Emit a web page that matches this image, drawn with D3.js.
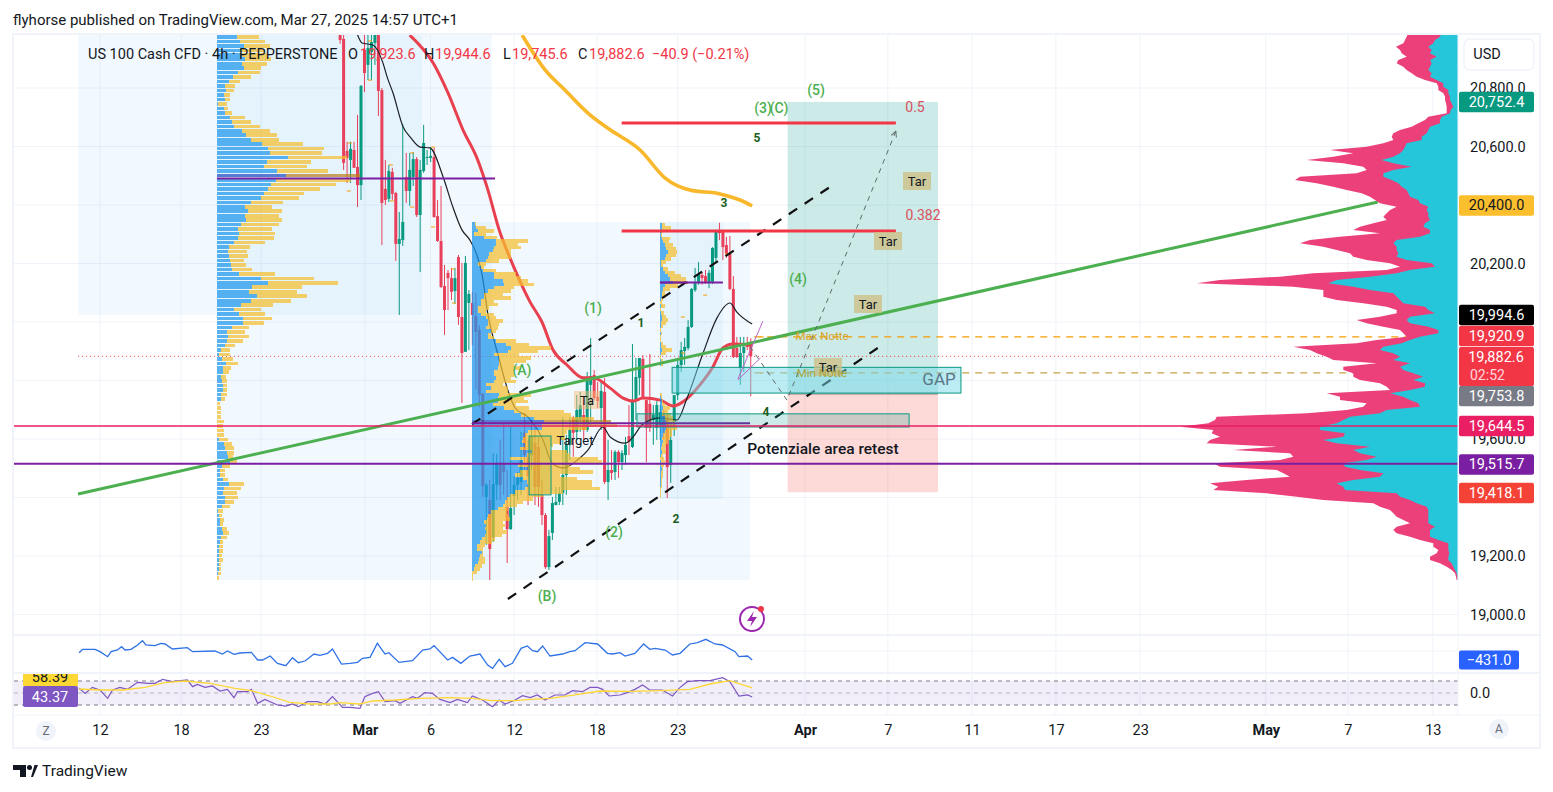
<!DOCTYPE html>
<html>
<head>
<meta charset="utf-8">
<script src="https://cdn.jsdelivr.net/npm/d3@7"></script>
<style>
  html, body { margin: 0; background: #fff; }
  svg { display: block; font-family: Roboto, sans-serif; }
  .axis path, .axis line { display: none; }
  .axis text { font-family: Roboto, sans-serif; font-size: 14.5px; fill: #131722; }
</style>
</head>
<body>
<script>
// ---- price axis and time axis
const priceTicks = [20800, 20600, 20400, 20200, 20000, 19800, 19600, 19400, 19200, 19000];
const priceLabels = [20800, 20600, 20200, 19600, 19200, 19000];
const timeBars = [0, 23.3, 46.3, 76.1, 95, 119, 142.8, 166, 202.6, 226.4, 250.6, 274.7, 298.9, 335, 358.6, 383];
const timeLabels = ['12', '18', '23', 'Mar', '6', '12', '18', '23', 'Apr', '7', '11', '17', '23', 'May', '7', '13'];

// ---- 4h candles, first one is bar 69
const firstBar = 69;
const candleOpen = [21033,20968,20585,20554,20588,20530,20468,20930,20879,20923,20954,20985,20793,20455,20421,20513,20441,20267,20280,20496,20448,20496,20557,20366,20516,20561,20561,20564,20362,20277,20123,20168,20150,20106,20222,20017,19898,20065,20065,20021,19973,19754,19402,19391,19262,19443,19518,19518,19368,19292,19405,19443,19453,19621,19539,19545,19586,19573,19409,19340,19162,19279,19374,19385,19415,19477,19580,19672,19624,19665,19682,19631,19785,19819,19744,19706,19761,19453,19494,19487,19556,19521,19545,19610,19573,19733,19809,19874,19733,19720,19665,19638,19648,19682,19672,19511,19658,19750,19853,19901,19911,19983,20109,20133,20161,20157,20133,20137,20219,20308,20308,20263,20233,20113,19911,19843,19894,19921,19923.6];
const candleHigh = [21067,20998,20616,20616,20616,20708,20810,20985,20998,20985,21033,21033,20800,20554,20537,20527,20445,20376,20677,20578,20578,20581,20564,20554,20674,20588,20598,20595,20417,20465,20195,20178,20185,20185,20229,20202,20226,20109,20103,20099,19990,19757,19450,19460,19552,19549,19597,19655,19494,19641,19474,19487,19624,19689,19597,19665,19648,19607,19460,19347,19289,19402,19436,19436,19675,19614,19675,19679,19750,19761,19733,19829,19945,19836,19795,19795,19809,19597,19562,19562,19562,19562,19607,19716,19925,19877,19877,19887,19733,19891,19716,19740,19716,19699,19682,19658,19750,19870,19932,19945,20007,20116,20185,20205,20171,20178,20178,20256,20315,20339,20308,20291,20294,20157,19949,19949,19949,19949,19944.6];
const candleLow = [20951,20520,20475,20475,20527,20393,20417,20786,20827,20827,20879,20704,20263,20400,20410,20417,20209,20024,20260,20407,20397,20465,20359,20171,20510,20537,20547,20356,20274,20116,19956,20041,20075,20062,19990,19723,19898,19904,19921,19768,19709,19402,19238,19118,19248,19391,19391,19409,19176,19289,19340,19391,19409,19494,19374,19494,19374,19368,19306,19156,19152,19255,19374,19374,19374,19409,19528,19539,19597,19624,19597,19624,19648,19733,19706,19631,19446,19391,19460,19460,19467,19494,19511,19545,19569,19665,19750,19744,19521,19624,19580,19597,19597,19597,19398,19450,19610,19733,19829,19853,19904,19980,20103,20127,20127,20130,20116,20130,20205,20280,20212,20219,20109,19877,19877,19785,19829,19904,19745.6];
const candleClose = [20964,20544,20561,20592,20527,20468,20807,20851,20937,20957,21005,20790,20407,20417,20516,20438,20267,20284,20342,20448,20520,20557,20366,20520,20612,20564,20568,20359,20277,20120,20041,20150,20103,20150,20017,19894,20202,20096,20024,19966,19750,19439,19443,19224,19446,19518,19443,19487,19292,19364,19443,19467,19528,19545,19474,19610,19436,19436,19340,19162,19268,19381,19385,19415,19477,19580,19631,19621,19699,19716,19631,19809,19815,19740,19730,19764,19453,19494,19484,19556,19521,19552,19580,19590,19733,19812,19877,19744,19638,19638,19682,19716,19692,19648,19504,19597,19750,19853,19904,19915,19983,20113,20133,20164,20150,20133,20168,20253,20308,20304,20256,20233,20113,19880,19880,19894,19915,19915,19882.6];

// ---- moving averages: [bar, price]
const maRed = [[89,20981],[95.7,20886],[100,20783],[104.3,20657],[108.3,20561],[111.2,20462],[115,20304],[117.8,20219],[123.6,20068],[127,20000],[130.2,19904],[134.2,19853],[138.8,19809],[141.7,19809],[146.6,19774],[150.3,19740],[153.2,19730],[156,19740],[161,19733],[164.7,19713],[167.5,19727],[172.4,19785],[176.1,19846],[179,19911],[181.9,19925],[187.6,19921]];
const maBlack = [[73.9,20985],[75.3,20954],[78.4,20947],[81.3,20886],[82.5,20838],[84.2,20783],[87.1,20667],[89.1,20633],[92,20598],[94.8,20595],[98.6,20496],[101.4,20393],[104,20315],[106.3,20280],[108.3,20229],[109.8,20161],[111.5,20024],[114.4,19887],[117,19774],[119.3,19706],[123,19675],[127.3,19597],[129.9,19518],[133,19501],[137.9,19535],[140.2,19562],[144.5,19641],[146.6,19607],[150.9,19586],[153.2,19607],[155.7,19648],[160.9,19672],[165.8,19665],[168.7,19740],[173.3,19894],[177.3,20014],[181,20065],[183,20034],[187.4,19993]];
const maYellow = [[121.3,20981],[127.9,20862],[133.6,20793],[140.8,20708],[146.6,20657],[155.2,20588],[162.4,20492],[169.5,20451],[178.2,20438],[183.9,20417],[187.4,20397]];

// ---- lower panes: [bar, value]
const cciLine = [[-6,-80],[-5,80],[-1.4,80],[0,-32],[2.2,-272],[3.2,-32],[5,48],[6.2,208],[7.2,48],[8.9,80],[10.8,288],[12.2,496],[13.2,288],[15.8,256],[17.5,368],[18.7,336],[20.8,96],[25.1,160],[26.6,-32],[33,0],[35.2,-144],[36.6,0],[38.5,-160],[40.2,-96],[43.5,-64],[45.3,-432],[46.7,-432],[48.9,-240],[51,-592],[53.4,-704],[55.3,-320],[57,-560],[58.9,-480],[61.5,-144],[63.2,-208],[65.4,-112],[66.8,96],[69.4,-624],[71.8,-592],[74,-544],[75.4,-352],[77.6,-304],[79.7,368],[81.9,-144],[83,-80],[85.9,-544],[89.8,-464],[92.7,48],[94.8,96],[96,256],[99.9,-432],[101.3,-304],[103.7,-592],[106.3,-240],[109.2,-144],[111.4,-672],[112.8,-832],[114.7,-400],[116.4,-752],[118.5,-592],[121,128],[122.8,240],[124.3,16],[125.7,-32],[127.2,240],[129.3,-240],[132.9,-144],[135,-32],[136.5,16],[139.4,400],[143,336],[145.8,-112],[147.3,-144],[149.4,-80],[150.9,-240],[153.7,-112],[156.2,336],[158,80],[159.5,128],[162.4,48],[164.5,-192],[166.7,-112],[169.5,336],[171.7,400],[174.1,560],[176.7,336],[178.9,288],[182.5,-32],[183.6,-272],[186.1,-240],[187.4,-431]];
const rsiLine = [[-6,57.8],[-4.3,49.4],[-2.2,59.4],[0,55],[2.2,41.1],[3.6,55],[5.7,59.4],[7.9,56.1],[10.8,67.8],[13.6,66.1],[15.8,66.1],[18,72.8],[20.8,68.9],[25.1,71.7],[26.6,60.6],[28,64.4],[30.2,59.4],[32.3,61.7],[34.5,53.3],[36.6,56.1],[38.5,42.2],[39.5,52.2],[42.4,52.2],[43.5,56.1],[45.3,32.8],[47.4,39.4],[51,30],[53.4,28.3],[55.3,31.7],[57,27.2],[59.6,35.6],[62.5,35.6],[64.7,31.7],[66.8,43.9],[69.7,26.1],[71.8,26.1],[74.7,24.4],[76.1,43.9],[78.3,49.4],[80,52.2],[81.9,35.6],[84.8,37.2],[86.2,32.8],[89.8,43.9],[91.2,41.1],[93.4,50.6],[95.5,49.4],[97.7,39.4],[100.6,33.9],[102.7,39.4],[105.6,33.9],[107,45],[109.9,38.3],[112.8,27.2],[114.7,38.3],[116.4,31.7],[119.3,38.3],[121.4,45.6],[123.6,42.2],[125.7,46.7],[127.9,38.3],[130.7,46.7],[133.6,46.7],[135.8,53.9],[138.6,52.2],[140.8,59.4],[143,59.4],[144.4,56.1],[146.3,45],[149.4,46.7],[151.6,50.6],[153.7,56.1],[155.9,63.3],[158,55],[161.6,55],[164.5,45],[166.7,59.4],[168.8,68.9],[171.7,70.6],[175.3,70.6],[178.9,75.6],[181,68.9],[183.6,45],[186.1,46.7],[187.4,43.37]];
const rsiMa = [[-6,56.7],[0,55],[6.5,55],[12.9,59.4],[18.7,67.2],[24.4,70],[31.6,66.1],[38.8,57.8],[43.5,53.9],[48.9,45],[54.6,34.4],[60.3,31.7],[66.1,31.7],[69,33.9],[74.7,31.7],[78.3,36.7],[84.8,38.3],[92,41.1],[100.6,42.2],[107,41.1],[112.8,37.2],[119.3,37.2],[123.6,39.4],[129.3,41.1],[136.5,46.7],[143.7,53.3],[152.3,52.8],[160.9,53.9],[169.5,56.1],[175.3,65],[181,70.6],[187.4,58.39]];

// ---- volume profiles, [up, total] per row from top price down to bottom price
const profileLeft = [[56,126],[59,127],[69,144],[81,159],[71,144],[74,154],[84,162],[75,149],[81,132],[63,129],[49,102],[36,69],[24,54],[27,51],[21,39],[24,39],[4,31],[21,34],[24,45],[39,84],[45,102],[51,129],[76,159],[87,180],[102,186],[135,258],[153,321],[159,315],[213,389],[150,282],[141,270],[180,333],[207,429],[177,402],[162,357],[153,309],[141,261],[132,246],[102,198],[84,165],[93,195],[84,186],[87,195],[72,186],[63,165],[66,174],[63,171],[51,144],[36,99],[33,90],[36,93],[39,81],[42,87],[45,105],[66,174],[132,291],[153,363],[105,255],[96,240],[120,270],[102,222],[72,168],[51,132],[66,144],[78,165],[78,141],[45,96],[30,84],[33,96],[30,78],[24,54],[12,39],[6,39],[15,48],[27,63],[18,42],[18,36],[12,27],[15,30],[18,30],[18,30],[12,30],[12,24],[0,9],[0,12],[0,12],[0,12],[0,21],[0,18],[0,21],[0,21],[6,33],[21,45],[24,51],[30,51],[33,48],[39,60],[15,39],[9,24],[9,24],[18,33],[36,81],[21,72],[18,60],[24,63],[24,51],[15,39],[3,18],[6,15],[9,21],[9,18],[15,30],[18,36],[12,30],[9,18],[6,18],[6,18],[6,15],[6,18],[6,12],[6,12],[3,12],[0,6]];
const profileMid = [[10,12],[12,42],[17,67],[7,42],[37,74],[72,167],[72,137],[67,147],[62,117],[52,117],[47,117],[42,82],[17,42],[27,37],[32,72],[67,132],[67,147],[92,167],[97,187],[67,127],[47,117],[37,92],[37,117],[27,67],[27,77],[17,52],[17,42],[27,67],[42,72],[47,92],[47,82],[42,77],[57,72],[47,57],[47,67],[72,132],[102,172],[117,237],[107,197],[67,142],[82,177],[82,162],[82,127],[77,147],[67,127],[67,127],[72,117],[67,132],[42,92],[57,107],[42,107],[82,177],[77,157],[77,167],[62,132],[97,172],[127,277],[147,297],[187,367],[217,417],[209,434],[209,344],[169,284],[159,279],[154,279],[149,264],[159,244],[144,234],[179,284],[164,294],[114,379],[154,389],[139,294],[169,324],[144,364],[129,264],[154,314],[164,359],[169,359],[159,384],[129,274],[114,214],[104,184],[99,154],[94,134],[79,109],[56,104],[49,109],[46,114],[36,94],[42,99],[39,94],[42,104],[39,89],[29,69],[24,59],[16,39],[16,34],[29,34],[24,32],[22,39],[19,39],[9,29],[6,24],[0,14],[0,4],[0,2]];
const profileSmall = [[5,15],[7,34],[5,9],[3,7],[5,29],[9,27],[14,39],[19,47],[24,51],[19,47],[14,34],[4,19],[2,9],[9,24],[14,44],[24,64],[29,79],[39,84],[14,54],[9,29],[5,14],[7,19],[4,9],[1,7],[2,14],[0,2],[2,11],[5,17],[5,24],[2,17],[2,9],[0,2],[2,7],[0,2],[1,3],[3,9],[3,19],[5,37],[2,17],[0,2],[2,9],[4,9],[0,0],[0,0],[0,0],[0,0],[0,0],[0,0],[0,0],[0,0],[1,5],[3,7],[5,9],[7,14],[9,29],[5,24],[7,34],[14,39],[19,44],[19,49],[17,51],[14,37],[9,35],[7,29],[9,24],[5,19],[4,14],[5,19],[3,9],[1,11],[2,14],[4,11],[5,9],[4,9],[4,9],[3,7],[2,6],[2,5],[1,4],[0,3],[1,2]];
// session profile on the right: [total, up]
const profileRight = [[150,50],[154,54],[159,69],[164,74],[186,89],[174,79],[169,84],[154,64],[179,84],[184,79],[164,84],[154,89],[139,79],[124,84],[99,64],[64,44],[59,44],[59,29],[44,29],[39,24],[39,24],[36,19],[34,14],[34,22],[34,24],[89,49],[99,54],[119,54],[139,84],[174,89],[194,94],[199,109],[194,109],[224,154],[274,159],[384,164],[314,174],[374,194],[454,229],[344,194],[284,139],[274,194],[304,224],[474,224],[489,199],[424,179],[374,169],[334,154],[289,149],[264,144],[249,119],[234,114],[184,89],[204,94],[214,89],[224,89],[214,84],[254,99],[294,104],[314,84],[234,84],[354,114],[444,184],[474,194],[404,184],[364,184],[324,179],[314,184],[274,154],[204,79],[174,69],[214,144],[434,184],[534,264],[714,364],[784,389],[494,314],[404,264],[404,194],[404,184],[364,174],[284,164],[214,99],[184,89],[184,69],[234,144],[304,154],[274,144],[224,89],[174,59],[164,59],[154,114],[244,144],[304,169],[494,224],[444,234],[424,194],[394,174],[374,194],[244,144],[344,174],[344,164],[314,134],[314,104],[294,134],[234,99],[214,99],[204,144],[394,204],[354,164],[354,144],[274,119],[284,114],[334,214],[454,234],[724,324],[729,344],[749,364],[834,414],[734,414],[739,339],[714,344],[744,404],[754,364],[544,264],[674,314],[504,294],[494,244],[534,274],[734,344],[714,339],[544,294],[524,224],[504,234],[634,314],[744,364],[719,344],[734,339],[574,184],[484,174],[404,144],[254,124],[234,94],[204,89],[194,89],[184,89],[164,89],[144,89],[184,69],[194,84],[184,84],[144,84],[114,59],[74,29],[74,29],[59,29],[64,26],[84,29],[84,29],[54,19],[34,14],[19,9],[9,4],[6,2],[4,0]];

// ---- orange swing markers [bar, price]
const swingMarks = [[71.8,20612],[71.5,20448],[77.6,20961],[77.6,20827],[83.6,20537],[83.9,20414],[89.7,20578],[89.7,20393],[95.7,20598],[95.7,20325],[101.4,20181],[101.7,20065],[167.5,20017],[167.5,19894],[173.9,20092],[180.2,20233],[190.2,19949],[190.2,19826]];

// ---- price labels on the right: [text, centre y, colour, text colour]
const priceBadges = [
  ['20,752.4', 102, '#089981', '#fff'],
  ['20,400.0', 205.5, '#fbbf2d', '#131722'],
  ['19,994.6', 315, '#000', '#fff'],
  ['19,920.9', 336, '#f23645', '#fff'],
  ['19,753.8', 396, '#787b86', '#fff'],
  ['19,644.5', 426, '#e91e63', '#fff'],
  ['19,515.7', 464.5, '#7b1fa2', '#fff'],
  ['19,418.1', 493, '#f44336', '#fff']
];

// layout
const W = 1553, H = 792;
const x = d3.scaleLinear().domain([0, 100]).range([100, 448]);
const y = d3.scaleLinear().domain([19000, 20800]).range([614.5, 88]);
const cciY = d3.scaleLinear().domain([0, -431]).range([651, 660]);
const rsiY = d3.scaleLinear().domain([30, 70]).range([705, 681]);
const vol = d3.scaleLinear().domain([0, 3]).range([0, 1]);
const rightEdge = 1458;

const svg = d3.select('body').append('svg').attr('width', W).attr('height', H);

const defs = svg.append('defs');
defs.append('clipPath').attr('id', 'main').append('rect').attr('x', 14).attr('y', 35).attr('width', rightEdge - 14).attr('height', 600);
defs.append('marker').attr('id', 'arrow').attr('viewBox', '0 0 10 10').attr('refX', 9).attr('refY', 5)
  .attr('markerWidth', 7).attr('markerHeight', 7).attr('orient', 'auto')
  .append('path').attr('d', 'M1 1L9 5L1 9').attr('fill', 'none').attr('stroke', '#5d6b6b').attr('stroke-width', 1.3);

const grid = svg.append('g').attr('stroke', '#f0f3fa');
priceTicks.forEach(p => grid.append('line').attr('x1', 14).attr('x2', rightEdge).attr('y1', y(p)).attr('y2', y(p)));
timeBars.forEach(b => grid.append('line').attr('x1', x(b)).attr('x2', x(b)).attr('y1', 35).attr('y2', 715));
grid.append('line').attr('x1', 14).attr('x2', rightEdge).attr('y1', cciY(0)).attr('y2', cciY(0));

const main = svg.append('g').attr('clip-path', 'url(#main)');

function box(g, b0, b1, p0, p1, fill, stroke) {
  return g.append('rect').attr('x', x(b0)).attr('width', x(b1) - x(b0))
    .attr('y', y(p0)).attr('height', y(p1) - y(p0))
    .attr('fill', fill).attr('stroke', stroke || 'none');
}

// pale profile backgrounds
const paleBlue = 'rgba(33,150,243,0.06)';
box(main, -6.3, 92.5, 20981, 20024, paleBlue);
box(main, 33.6, 112.6, 20981, 19118, paleBlue);
box(main, 106.9, 186.8, 20342, 19118, paleBlue);
box(main, 160.9, 179, 20342, 19395, paleBlue);

// long position tool
box(main, 197.6, 240.8, 20752.4, 19753.8, 'rgba(0,150,136,0.2)');
box(main, 197.6, 240.8, 19753.8, 19418.1, 'rgba(244,67,54,0.2)');
main.append('line').attr('x1', x(197.6)).attr('x2', x(240.8)).attr('y1', y(19753.8)).attr('y2', y(19753.8)).attr('stroke', '#888');

// horizontal guides behind the session profile
function hLine(g, b0, b1, p) {
  return g.append('line').attr('x1', x(b0)).attr('x2', x(b1)).attr('y1', y(p)).attr('y2', y(p));
}
hLine(main, -6.3, 389, 19882.6).attr('stroke', '#f23645').attr('stroke-width', 1).attr('stroke-dasharray', '1 3');
hLine(main, 188, 389, 19949).attr('stroke', '#f59d00').attr('stroke-width', 1.2).attr('stroke-dasharray', '7 6');
hLine(main, 188, 389, 19826).attr('stroke', '#c9a24a').attr('stroke-width', 1.2).attr('stroke-dasharray', '7 6');

// candles
const candleGreen = '#089981', candleRed = '#e8405a';
const candles = main.append('g');
candleOpen.forEach((o, i) => {
  const c = candleClose[i], b = firstBar + i;
  const col = c >= o ? candleGreen : candleRed;
  const cx = x(b);
  candles.append('line').attr('x1', cx).attr('x2', cx).attr('y1', y(candleHigh[i])).attr('y2', y(candleLow[i]))
    .attr('stroke', col).attr('stroke-width', 1);
  candles.append('rect').attr('x', cx - 1.5).attr('width', 3)
    .attr('y', y(Math.max(o, c))).attr('height', Math.max(1, Math.abs(y(o) - y(c))))
    .attr('fill', col);
});

const lineGen = d3.line().x(d => x(d[0])).y(d => y(d[1])).curve(d3.curveMonotoneX);
const path = (g, data, col, w) => g.append('path').attr('d', lineGen(data)).attr('fill', 'none')
  .attr('stroke', col).attr('stroke-width', w).attr('stroke-linejoin', 'round');

path(main, maYellow, '#f9b72b', 3.6);
path(main, maRed, '#e8404f', 3);
path(main, maBlack, '#1b1f24', 1.2);

// swing markers
swingMarks.forEach(d => {
  main.append('line').attr('x1', x(d[0]) - 2).attr('x2', x(d[0]) + 2).attr('y1', y(d[1])).attr('y2', y(d[1]))
    .attr('stroke', '#f59d00').attr('stroke-width', 1);
});

// volume profiles drawn over the candles
function profile(rows, bar, topPrice, bottomPrice, poc, barH) {
  const g = main.append('g').attr('opacity', 0.72).attr('shape-rendering', 'crispEdges');
  const rowPrice = d3.scaleLinear().domain([0, rows.length - 1]).range([topPrice, bottomPrice]);
  const x0 = x(bar);
  rows.forEach((r, i) => {
    const top = y(rowPrice(i)) - barH / 2;
    g.append('rect').attr('x', x0).attr('y', top).attr('width', vol(r[0])).attr('height', barH)
      .attr('fill', i === poc ? '#1f4fc0' : '#1f97ee');
    g.append('rect').attr('x', x0 + vol(r[0])).attr('y', top).attr('width', vol(r[1] - r[0])).attr('height', barH)
      .attr('fill', i === poc ? '#b9801e' : '#f6bf30');
  });
}
profile(profileLeft, 33.6, 20990, 19125, 32, 3.6);
profile(profileMid, 106.9, 20335, 19121, 59, 3.6);
profile(profileSmall, 160.9, 20332, 19405, 17, 3.6);

// channel, trend line and purple POC lines
const straight = (g, b0, p0, b1, p1) => g.append('line').attr('x1', x(b0)).attr('y1', y(p0)).attr('x2', x(b1)).attr('y2', y(p1));
straight(main, -6.3, 19412, 367.2, 20410).attr('stroke', '#4caf50').attr('stroke-width', 3);
straight(main, 117.2, 19053, 224.7, 19921).attr('stroke', '#111').attr('stroke-width', 2.2).attr('stroke-dasharray', '10 9');
straight(main, 106.9, 19651, 209.8, 20462).attr('stroke', '#111').attr('stroke-width', 2.2).attr('stroke-dasharray', '10 9');

hLine(main, 33.6, 113.5, 20491).attr('stroke', '#7b1fa2').attr('stroke-width', 2);
hLine(main, 106.9, 186.8, 19654).attr('stroke', '#7b1fa2').attr('stroke-width', 2);
hLine(main, 160.9, 179, 20135).attr('stroke', '#7b1fa2').attr('stroke-width', 2);

hLine(main, 149.9, 228.7, 20680).attr('stroke', '#f23645').attr('stroke-width', 3);
hLine(main, 149.9, 228.7, 20311).attr('stroke', '#f23645').attr('stroke-width', 3);

// gap boxes
box(main, 164.4, 247.4, 19845, 19757, 'rgba(119,215,232,0.5)', '#089981');
box(main, 154.3, 232.5, 19686, 19641, 'rgba(0,150,136,0.2)', '#089981');
box(main, 123.3, 129.6, 19610, 19409, 'rgba(190,180,60,0.35)', '#089981');

// small purple wedge lines
straight(main, 183.3, 19805, 190.5, 20003).attr('stroke', '#ba68c8').attr('stroke-width', 1);
straight(main, 183.3, 19802, 189.8, 19877).attr('stroke', '#ba68c8').attr('stroke-width', 1);

// forecast path
main.append('path')
  .attr('d', d3.line().x(d => x(d[0])).y(d => y(d[1]))([[186.8, 19916], [197.4, 19733], [228.7, 20652]]))
  .attr('fill', 'none').attr('stroke', '#5d6b6b').attr('stroke-width', 1).attr('stroke-dasharray', '5 5')
  .attr('marker-end', 'url(#arrow)');

// session profile on the right edge, tapered spikes
const rightPrice = d3.scaleLinear().domain([0, profileRight.length - 1]).range([20987, 19118]);
const rightArea = d3.area().y((d, i) => y(rightPrice(i)));
main.append('path').attr('fill', '#ec407a')
  .attr('d', rightArea.x0(d => rightEdge - vol(d[0])).x1(rightEdge)(profileRight));
main.append('path').attr('fill', '#26c6da')
  .attr('d', rightArea.x0(d => rightEdge - vol(d[1])).x1(rightEdge)(profileRight));

// long horizontals on top of everything
main.append('line').attr('x1', 14).attr('x2', rightEdge).attr('y1', y(19644.5)).attr('y2', y(19644.5)).attr('stroke', '#e91e63').attr('stroke-width', 1.6);
main.append('line').attr('x1', 14).attr('x2', rightEdge).attr('y1', y(19515.7)).attr('y2', y(19515.7)).attr('stroke', '#7b1fa2').attr('stroke-width', 2);

// annotations
function label(txt, px, py, col, size, weight, anchor) {
  return svg.append('text').attr('x', px).attr('y', py).attr('text-anchor', anchor || 'middle')
    .attr('fill', col).attr('font-size', size).attr('font-weight', weight || 400)
    .attr('dominant-baseline', 'central').text(txt);
}
function tag(txt, cx, cy, w, fill) {
  svg.append('rect').attr('x', cx - w / 2).attr('y', cy - 9).attr('width', w).attr('height', 18).attr('fill', fill);
  label(txt, cx, cy, '#131722', 13);
}
const waveGreen = '#4caf50', countGreen = '#1b5e20';
[['(A)', 522, 370], ['(1)', 593, 308], ['(2)', 614, 532], ['(B)', 547, 596], ['(3)', 763, 108], ['(C)', 779, 108], ['(5)', 816, 90], ['(4)', 798, 279]]
  .forEach(d => label(d[0], d[1], d[2], waveGreen, 14, 500));
[['1', 641, 323], ['2', 676, 519], ['3', 724, 203], ['4', 766, 412], ['5', 757, 138]]
  .forEach(d => label(d[0], d[1], d[2], countGreen, 12, 700));
label('0.5', 915, 107, '#d9505f', 14);
label('0.382', 923, 215, '#d9505f', 14);
[[917, 181], [888, 241], [868, 304], [828, 367]].forEach(d => tag('Tar', d[0], d[1], 28, 'rgba(205,190,130,0.75)'));
tag('Ta', 587, 400, 26, 'rgba(243,190,120,0.5)');
label('Target', 575, 440, '#131722', 13);
label('Max Notte', 822, 336, '#d9a21e', 11.5);
label('Min Notte', 822, 373, '#a8a63a', 11.5);
label('GAP', 939, 379, '#5a7686', 17);
label('Potenziale area retest', 823, 449, '#131722', 15.5, 500);

// lightning badge
svg.append('circle').attr('cx', 752).attr('cy', 619).attr('r', 12).attr('fill', '#fff').attr('stroke', '#9c27b0').attr('stroke-width', 2);
svg.append('path').attr('d', 'M754 611L747 621H752L750 627L757 617H752Z').attr('fill', '#9c27b0');
svg.append('circle').attr('cx', 761).attr('cy', 609).attr('r', 3).attr('fill', '#f23645');

// lower panes
const paneLine = (s) => d3.line().x(d => x(d[0])).y(d => s(d[1]));
svg.append('path').attr('d', paneLine(cciY)(cciLine)).attr('fill', 'none').attr('stroke', '#2f72e6').attr('stroke-width', 1.3);
svg.append('rect').attr('x', 14).attr('width', rightEdge - 14).attr('y', rsiY(70)).attr('height', rsiY(30) - rsiY(70)).attr('fill', 'rgba(126,87,194,0.1)');
[70, 50, 30].forEach(v => svg.append('line').attr('x1', 14).attr('x2', rightEdge).attr('y1', rsiY(v)).attr('y2', rsiY(v))
  .attr('stroke', v === 50 ? '#b2b5be' : '#787b86').attr('stroke-dasharray', '4 4'));
svg.append('path').attr('d', paneLine(rsiY)(rsiLine)).attr('fill', 'none').attr('stroke', '#7e57c2').attr('stroke-width', 1.2);
svg.append('path').attr('d', paneLine(rsiY)(rsiMa)).attr('fill', 'none').attr('stroke', '#fdd835').attr('stroke-width', 1.3);

// frame
const frame = svg.append('g').attr('stroke', '#f0f3fa').attr('stroke-width', 2).attr('fill', 'none');
frame.append('rect').attr('x', 13).attr('y', 34).attr('width', 1527).attr('height', 714);
frame.append('line').attr('x1', 13).attr('x2', 1540).attr('y1', 635).attr('y2', 635);
frame.append('line').attr('x1', 13).attr('x2', 1540).attr('y1', 673).attr('y2', 673);
frame.append('line').attr('x1', rightEdge).attr('x2', rightEdge).attr('y1', 34).attr('y2', 715).attr('stroke-width', 1);
frame.append('line').attr('x1', 13).attr('x2', 1540).attr('y1', 715).attr('y2', 715).attr('stroke-width', 1);

// axes
svg.append('g').attr('class', 'axis').attr('transform', `translate(${rightEdge},0)`)
  .call(d3.axisRight(y).tickValues(priceLabels).tickSize(0).tickPadding(12).tickFormat(d3.format(',.1f')));
const xAxis = svg.append('g').attr('class', 'axis').attr('transform', 'translate(0,716)')
  .call(d3.axisBottom(x).tickValues(timeBars).tickSize(0).tickPadding(9).tickFormat((d, i) => timeLabels[i]));
xAxis.selectAll('text').attr('font-weight', (d, i) => /[a-z]/i.test(timeLabels[i]) ? 700 : 400);

// price badges
function badge(txt, py, h, w, fill, col) {
  svg.append('rect').attr('x', 1459).attr('y', py - h / 2).attr('width', w).attr('height', h).attr('rx', 2).attr('fill', fill);
  label(txt, 1459 + w / 2, py, col, 14.5);
}
priceBadges.forEach(d => badge(d[0], d[1], 20.5, 75, d[2], d[3]));
svg.append('rect').attr('x', 1459).attr('y', 347).attr('width', 75).attr('height', 39).attr('rx', 2).attr('fill', '#f23645');
label('19,882.6', 1496, 357, '#fff', 14.5);
label('02:52', 1470, 375, '#ffd7db', 14, 400, 'start');
badge('\u2212431.0', cciY(-431), 19, 60, '#2962ff', '#fff');
label('0.0', 1480, rsiY(50), '#131722', 14.5);

// indicator value tags on the left, the yellow one is cut by the pane divider
svg.append('rect').attr('x', 23).attr('y', 666).attr('width', 55).attr('height', 20).attr('fill', '#fdd835');
label('58.39', 50, 677, '#131722', 14.5);
svg.append('rect').attr('x', 14).attr('y', 636).attr('width', 64).attr('height', 36).attr('fill', '#fff');
svg.append('rect').attr('x', 23).attr('y', 686).attr('width', 55).attr('height', 21).attr('rx', 2).attr('fill', '#7e57c2');
label('43.37', 50, 697, '#fff', 14.5);
svg.append('line').attr('x1', 13).attr('x2', 78).attr('y1', 673).attr('y2', 673).attr('stroke', '#f0f3fa').attr('stroke-width', 2);

// USD button and corner buttons
svg.append('rect').attr('x', 1464).attr('y', 39).attr('width', 70).attr('height', 31).attr('rx', 6).attr('fill', '#fff').attr('stroke', '#f0f3fa').attr('stroke-width', 1.5);
label('USD', 1487, 54, '#131722', 14.5);
svg.append('circle').attr('cx', 46).attr('cy', 731).attr('r', 10).attr('fill', '#f0f3fa');
label('Z', 46, 731, '#6a6d78', 12);
svg.append('circle').attr('cx', 1499).attr('cy', 729).attr('r', 10).attr('fill', '#f0f3fa');
label('A', 1499, 729, '#6a6d78', 12);

// header and legend
label('flyhorse published on TradingView.com, Mar 27, 2025 14:57 UTC+1', 13, 20, '#131722', 15, 400, 'start');
const legendRed = '#f23645';
[['US 100 Cash CFD \u00b7 4h \u00b7 PEPPERSTONE', 88, '#131722'],
 ['O', 348, '#131722'], ['19,923.6', 360, legendRed],
 ['H', 424, '#131722'], ['19,944.6', 435, legendRed],
 ['L', 503, '#131722'], ['19,745.6', 512, legendRed],
 ['C', 578, '#131722'], ['19,882.6', 589, legendRed],
 ['\u221240.9 (\u22120.21%)', 652, legendRed]]
  .forEach(d => label(d[0], d[1], 54, d[2], 14.5, 400, 'start'));

// footer logo
svg.append('path').attr('d', 'M13 765H26V777H20V770H13Z').attr('fill', '#131722');
svg.append('circle').attr('cx', 29.5).attr('cy', 767.5).attr('r', 2.5).attr('fill', '#131722');
svg.append('path').attr('d', 'M31 777L34.5 765H38L33 777Z').attr('fill', '#131722');
label('TradingView', 42, 771, '#131722', 15.5, 400, 'start');
</script>
</body>
</html>
